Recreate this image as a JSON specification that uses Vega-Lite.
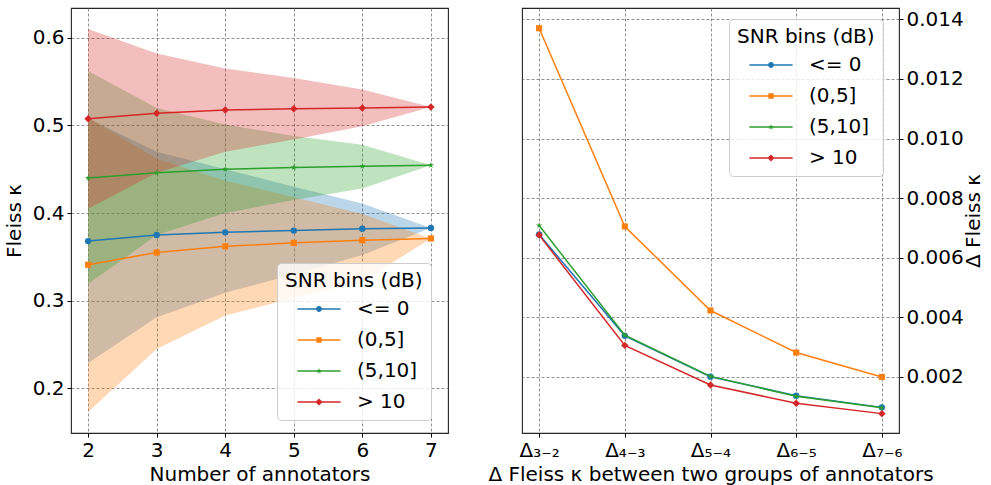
{
  "$schema": "https://vega.github.io/schema/vega-lite/v6.json",
  "autosize": {"type": "pad"},
  "padding": {"left": 3, "top": 7, "right": 0, "bottom": 0},
  "background": "white",
  "bounds": "flush",
  "spacing": 74,
  "config": {
    "font": "DejaVu Sans",
    "view": {"stroke": "#262626", "strokeWidth": 1.1},
    "axis": {
      "labelFont": "DejaVu Sans", "labelFontSize": 20, "labelColor": "#000",
      "titleFont": "DejaVu Sans", "titleFontSize": 20, "titleFontWeight": "normal", "titleColor": "#000",
      "tickColor": "#000", "tickSize": 4, "tickWidth": 1, "labelPadding": 3,
      "domain": false, "grid": true, "gridColor": "#666", "gridDash": [3, 2], "gridWidth": 0.8, "gridOpacity": 0.9,
      "labelFlush": false, "labelOverlap": false
    },
    "legend": {
      "orient": "none",
      "titleFont": "DejaVu Sans", "titleFontSize": 20, "titleFontWeight": "normal", "titleColor": "#000",
      "labelFont": "DejaVu Sans", "labelFontSize": 20, "labelColor": "#000",
      "fillColor": "rgba(255,255,255,0.8)", "strokeColor": "#cccccc", "cornerRadius": 4,
      "padding": 8, "symbolSize": 576, "symbolStrokeWidth": 0, "symbolOffset": 22, "labelOffset": 26,
      "rowPadding": 9, "titlePadding": 6
    }
  },
  "datasets": {
    "kappa": [
      {"snr": "<= 0", "n": 2, "k": 0.368, "lo": 0.229, "hi": 0.508},
      {"snr": "<= 0", "n": 3, "k": 0.375, "lo": 0.281, "hi": 0.470},
      {"snr": "<= 0", "n": 4, "k": 0.378, "lo": 0.309, "hi": 0.450},
      {"snr": "<= 0", "n": 5, "k": 0.380, "lo": 0.330, "hi": 0.430},
      {"snr": "<= 0", "n": 6, "k": 0.382, "lo": 0.352, "hi": 0.411},
      {"snr": "<= 0", "n": 7, "k": 0.383, "lo": 0.383, "hi": 0.383},
      {"snr": "(0,5]", "n": 2, "k": 0.341, "lo": 0.173, "hi": 0.509},
      {"snr": "(0,5]", "n": 3, "k": 0.355, "lo": 0.245, "hi": 0.462},
      {"snr": "(0,5]", "n": 4, "k": 0.362, "lo": 0.283, "hi": 0.437},
      {"snr": "(0,5]", "n": 5, "k": 0.366, "lo": 0.303, "hi": 0.418},
      {"snr": "(0,5]", "n": 6, "k": 0.369, "lo": 0.322, "hi": 0.399},
      {"snr": "(0,5]", "n": 7, "k": 0.371, "lo": 0.371, "hi": 0.371},
      {"snr": "(5,10]", "n": 2, "k": 0.440, "lo": 0.319, "hi": 0.562},
      {"snr": "(5,10]", "n": 3, "k": 0.446, "lo": 0.375, "hi": 0.520},
      {"snr": "(5,10]", "n": 4, "k": 0.450, "lo": 0.400, "hi": 0.501},
      {"snr": "(5,10]", "n": 5, "k": 0.452, "lo": 0.415, "hi": 0.488},
      {"snr": "(5,10]", "n": 6, "k": 0.4535, "lo": 0.428, "hi": 0.478},
      {"snr": "(5,10]", "n": 7, "k": 0.4545, "lo": 0.4545, "hi": 0.4545},
      {"snr": "> 10", "n": 2, "k": 0.5075, "lo": 0.405, "hi": 0.610},
      {"snr": "> 10", "n": 3, "k": 0.514, "lo": 0.446, "hi": 0.582},
      {"snr": "> 10", "n": 4, "k": 0.5175, "lo": 0.470, "hi": 0.565},
      {"snr": "> 10", "n": 5, "k": 0.519, "lo": 0.484, "hi": 0.554},
      {"snr": "> 10", "n": 6, "k": 0.520, "lo": 0.499, "hi": 0.541},
      {"snr": "> 10", "n": 7, "k": 0.521, "lo": 0.521, "hi": 0.521}
    ],
    "delta": [
      {"snr": "<= 0", "pair": "Δ₃₋₂", "d": 0.00678},
      {"snr": "<= 0", "pair": "Δ₄₋₃", "d": 0.00338},
      {"snr": "<= 0", "pair": "Δ₅₋₄", "d": 0.00201},
      {"snr": "<= 0", "pair": "Δ₆₋₅", "d": 0.00137},
      {"snr": "<= 0", "pair": "Δ₇₋₆", "d": 0.00098},
      {"snr": "(0,5]", "pair": "Δ₃₋₂", "d": 0.01370},
      {"snr": "(0,5]", "pair": "Δ₄₋₃", "d": 0.00705},
      {"snr": "(0,5]", "pair": "Δ₅₋₄", "d": 0.00423},
      {"snr": "(0,5]", "pair": "Δ₆₋₅", "d": 0.00282},
      {"snr": "(0,5]", "pair": "Δ₇₋₆", "d": 0.00200},
      {"snr": "(5,10]", "pair": "Δ₃₋₂", "d": 0.00708},
      {"snr": "(5,10]", "pair": "Δ₄₋₃", "d": 0.00340},
      {"snr": "(5,10]", "pair": "Δ₅₋₄", "d": 0.00202},
      {"snr": "(5,10]", "pair": "Δ₆₋₅", "d": 0.00135},
      {"snr": "(5,10]", "pair": "Δ₇₋₆", "d": 0.00097},
      {"snr": "> 10", "pair": "Δ₃₋₂", "d": 0.00676},
      {"snr": "> 10", "pair": "Δ₄₋₃", "d": 0.00306},
      {"snr": "> 10", "pair": "Δ₅₋₄", "d": 0.00173},
      {"snr": "> 10", "pair": "Δ₆₋₅", "d": 0.00112},
      {"snr": "> 10", "pair": "Δ₇₋₆", "d": 0.00077}
    ]
  },
  "resolve": {
    "scale": {"color": "independent", "shape": "independent"},
    "legend": {"color": "independent", "shape": "independent"}
  },
  "hconcat": [
    {
      "width": 377,
      "height": 425,
      "data": {"name": "kappa"},
      "encoding": {
        "x": {
          "field": "n", "type": "quantitative",
          "scale": {"domain": [1.75, 7.25], "nice": false, "zero": false},
          "axis": {"values": [2, 3, 4, 5, 6, 7], "format": "d", "title": "Number of annotators", "titlePadding": 4}
        },
        "y": {
          "field": "k", "type": "quantitative",
          "scale": {"domain": [0.149, 0.634], "nice": false, "zero": false},
          "axis": {"values": [0.2, 0.3, 0.4, 0.5, 0.6], "format": ".1f", "title": "Fleiss κ", "titlePadding": 8}
        }
      },
      "layer": [
        {
          "transform": [{"filter": {"field": "snr", "equal": "<= 0"}}],
          "mark": {"type": "area", "opacity": 0.3, "color": "#1f77b4"},
          "encoding": {"y": {"field": "lo", "type": "quantitative"}, "y2": {"field": "hi"}}
        },
        {
          "transform": [{"filter": {"field": "snr", "equal": "(0,5]"}}],
          "mark": {"type": "area", "opacity": 0.3, "color": "#ff7f0e"},
          "encoding": {"y": {"field": "lo", "type": "quantitative"}, "y2": {"field": "hi"}}
        },
        {
          "transform": [{"filter": {"field": "snr", "equal": "(5,10]"}}],
          "mark": {"type": "area", "opacity": 0.3, "color": "#2ca02c"},
          "encoding": {"y": {"field": "lo", "type": "quantitative"}, "y2": {"field": "hi"}}
        },
        {
          "transform": [{"filter": {"field": "snr", "equal": "> 10"}}],
          "mark": {"type": "area", "opacity": 0.3, "color": "#d62728"},
          "encoding": {"y": {"field": "lo", "type": "quantitative"}, "y2": {"field": "hi"}}
        },
        {
          "transform": [{"filter": {"field": "snr", "equal": "<= 0"}}],
          "mark": {"type": "line", "color": "#1f77b4", "strokeWidth": 1.5, "point": {"filled": true, "color": "#1f77b4", "shape": "circle", "size": 41, "opacity": 1}}
        },
        {
          "transform": [{"filter": {"field": "snr", "equal": "(0,5]"}}],
          "mark": {"type": "line", "color": "#ff7f0e", "strokeWidth": 1.5, "point": {"filled": true, "color": "#ff7f0e", "shape": "square", "size": 38, "opacity": 1}}
        },
        {
          "transform": [{"filter": {"field": "snr", "equal": "(5,10]"}}],
          "mark": {"type": "line", "color": "#2ca02c", "strokeWidth": 1.5, "point": {"filled": true, "color": "#2ca02c", "shape": "M0,-1L0.2245,-0.309L0.951,-0.309L0.363,0.118L0.588,0.809L0,0.382L-0.588,0.809L-0.363,0.118L-0.951,-0.309L-0.2245,-0.309Z", "size": 42, "opacity": 1}}
        },
        {
          "transform": [{"filter": {"field": "snr", "equal": "> 10"}}],
          "mark": {"type": "line", "color": "#d62728", "strokeWidth": 1.5, "point": {"filled": true, "color": "#d62728", "shape": "diamond", "size": 56, "opacity": 1}}
        },
        {
          "transform": [{"filter": {"field": "n", "equal": 2}}],
          "mark": {"type": "point", "filled": true, "opacity": 1, "clip": true},
          "encoding": {
            "y": {"datum": 5, "type": "quantitative"},
            "color": {
              "field": "snr", "type": "nominal",
              "scale": {"domain": ["<= 0", "(0,5]", "(5,10]", "> 10"], "range": ["#1f77b4", "#ff7f0e", "#2ca02c", "#d62728"]},
              "legend": {"title": "SNR bins (dB)", "legendX": 206, "legendY": 255}
            },
            "shape": {
              "field": "snr", "type": "nominal",
              "scale": {
                "domain": ["<= 0", "(0,5]", "(5,10]", "> 10"],
                "range": [
                  "M-1.8,-0.07H1.8V0.07H-1.8Z M-0.24,0A0.24,0.24 0 1,1 0.24,0A0.24,0.24 0 1,1 -0.24,0Z",
                  "M-1.8,-0.07H1.8V0.07H-1.8Z M-0.22,-0.22H0.22V0.22H-0.22Z",
                  "M-1.8,-0.07H1.8V0.07H-1.8Z M0,-0.25L0.056,-0.077L0.238,-0.077L0.091,0.03L0.147,0.202L0,0.096L-0.147,0.202L-0.091,0.03L-0.238,-0.077L-0.056,-0.077Z",
                  "M-1.8,-0.07H1.8V0.07H-1.8Z M0,-0.3L0.3,0L0,0.3L-0.3,0Z"
                ]
              },
              "legend": {"title": "SNR bins (dB)", "legendX": 206, "legendY": 255}
            }
          }
        }
      ]
    },
    {
      "width": 377,
      "height": 425,
      "data": {"name": "delta"},
      "encoding": {
        "x": {
          "field": "pair", "type": "ordinal",
          "scale": {"type": "point", "padding": 0.2, "domain": ["Δ₃₋₂", "Δ₄₋₃", "Δ₅₋₄", "Δ₆₋₅", "Δ₇₋₆"]},
          "axis": {"labelAngle": 0, "title": "Δ Fleiss κ between two groups of annotators", "titlePadding": 4}
        },
        "y": {
          "field": "d", "type": "quantitative",
          "scale": {"domain": [0.00012, 0.01438], "nice": false, "zero": false},
          "axis": {"orient": "right", "values": [0.002, 0.004, 0.006, 0.008, 0.010, 0.012, 0.014], "format": ".3f", "title": "Δ Fleiss κ", "titleAngle": 270, "titleBaseline": "top", "titlePadding": 0}
        }
      },
      "layer": [
        {
          "transform": [{"filter": {"field": "snr", "equal": "<= 0"}}],
          "mark": {"type": "line", "color": "#1f77b4", "strokeWidth": 1.5, "point": {"filled": true, "color": "#1f77b4", "shape": "circle", "size": 41, "opacity": 1}}
        },
        {
          "transform": [{"filter": {"field": "snr", "equal": "(0,5]"}}],
          "mark": {"type": "line", "color": "#ff7f0e", "strokeWidth": 1.5, "point": {"filled": true, "color": "#ff7f0e", "shape": "square", "size": 38, "opacity": 1}}
        },
        {
          "transform": [{"filter": {"field": "snr", "equal": "(5,10]"}}],
          "mark": {"type": "line", "color": "#2ca02c", "strokeWidth": 1.5, "point": {"filled": true, "color": "#2ca02c", "shape": "M0,-1L0.2245,-0.309L0.951,-0.309L0.363,0.118L0.588,0.809L0,0.382L-0.588,0.809L-0.363,0.118L-0.951,-0.309L-0.2245,-0.309Z", "size": 42, "opacity": 1}}
        },
        {
          "transform": [{"filter": {"field": "snr", "equal": "> 10"}}],
          "mark": {"type": "line", "color": "#d62728", "strokeWidth": 1.5, "point": {"filled": true, "color": "#d62728", "shape": "diamond", "size": 56, "opacity": 1}}
        },
        {
          "transform": [{"filter": {"field": "pair", "equal": "Δ₃₋₂"}}],
          "mark": {"type": "point", "filled": true, "opacity": 1, "clip": true},
          "encoding": {
            "y": {"datum": 1, "type": "quantitative"},
            "color": {
              "field": "snr", "type": "nominal",
              "scale": {"domain": ["<= 0", "(0,5]", "(5,10]", "> 10"], "range": ["#1f77b4", "#ff7f0e", "#2ca02c", "#d62728"]},
              "legend": {"title": "SNR bins (dB)", "legendX": 207, "legendY": 11}
            },
            "shape": {
              "field": "snr", "type": "nominal",
              "scale": {
                "domain": ["<= 0", "(0,5]", "(5,10]", "> 10"],
                "range": [
                  "M-1.8,-0.07H1.8V0.07H-1.8Z M-0.24,0A0.24,0.24 0 1,1 0.24,0A0.24,0.24 0 1,1 -0.24,0Z",
                  "M-1.8,-0.07H1.8V0.07H-1.8Z M-0.22,-0.22H0.22V0.22H-0.22Z",
                  "M-1.8,-0.07H1.8V0.07H-1.8Z M0,-0.25L0.056,-0.077L0.238,-0.077L0.091,0.03L0.147,0.202L0,0.096L-0.147,0.202L-0.091,0.03L-0.238,-0.077L-0.056,-0.077Z",
                  "M-1.8,-0.07H1.8V0.07H-1.8Z M0,-0.3L0.3,0L0,0.3L-0.3,0Z"
                ]
              },
              "legend": {"title": "SNR bins (dB)", "legendX": 207, "legendY": 11}
            }
          }
        }
      ]
    }
  ]
}
